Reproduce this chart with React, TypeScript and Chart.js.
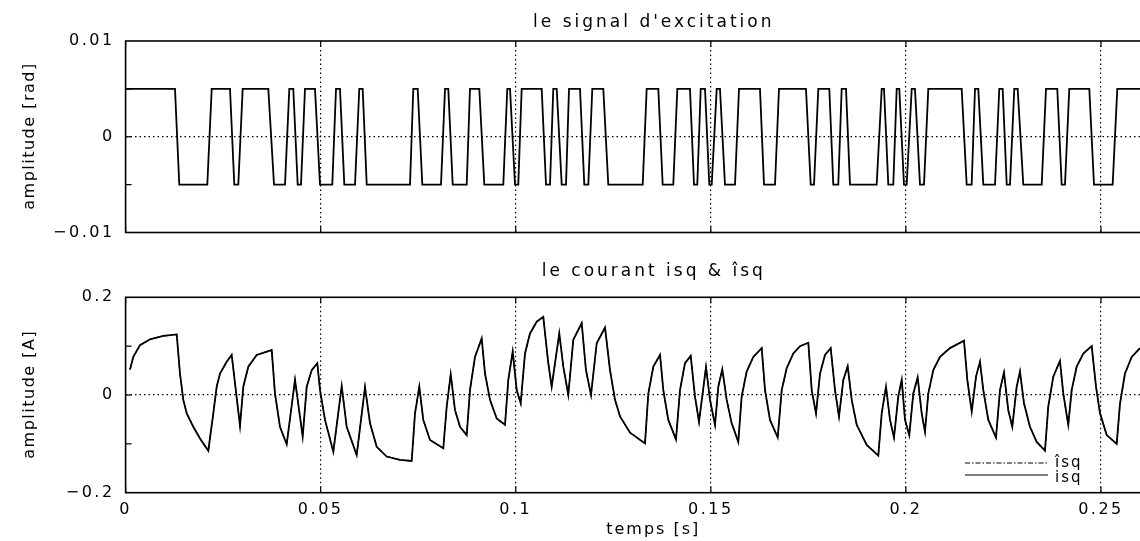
import { useEffect, useRef } from 'react';
import { Chart, registerables } from 'chart.js';

Chart.register(...registerables);

const FONT = "'DejaVu Sans', 'Liberation Sans', sans-serif";

// Time axis in milliseconds, labelled in seconds
const timeTicksMs = [0, 50, 100, 150, 200, 250];
const timeTickLabels = ['0', '0.05', '0.1', '0.15', '0.2', '0.25'];
const timeMaxMs = 270;

// Excitation panel axis
const excTicks = [-0.01, 0, 0.01];
const excTickLabels = ['−0.01', '0', '0.01'];
const excMinorTicks = [-0.005, 0.005];

// Current panel axis
const curTicks = [-0.2, 0, 0.2];
const curTickLabels = ['−0.2', '0', '0.2'];
const curMinorTicks = [-0.1, 0.1];

// Excitation: level starts at +excAmplitude and flips at every edge (ramp start / ramp end, ms)
const excAmplitude = 0.005;
const excEdgeStartMs = [
  12.66, 20.94, 26.76, 28.89, 36.58, 40.86, 42.98, 44.96, 48.54, 52.98,
  54.95, 58.8, 60.77, 72.9, 74.87, 80.84, 82.71, 87.43, 90.66, 96.81,
  98.53, 100.65, 106.65, 108.78, 110.5, 112.88, 116.47, 118.6, 122.44, 132.54,
  136.54, 140.38, 144.66, 146.53, 148.51, 150.23, 152.35, 156.2, 162.6, 166.45,
  174.39, 176.45, 180.37, 182.67, 184.65, 192.51, 194.39, 196.77, 198.31, 200.2,
  202.33, 204.64, 214.3, 216.86, 218.56, 222.84, 224.81, 226.68, 228.65, 234.81,
  238.8, 240.78, 247.01, 253.0,
];
const excEdgeEndMs = [
  13.76, 22.07, 27.86, 30.01, 38.04, 41.96, 44.11, 45.98, 49.83, 53.93,
  56.06, 59.9, 61.8, 73.74, 76.05, 81.87, 83.84, 88.27, 91.94, 97.83,
  99.81, 101.52, 107.75, 109.62, 111.78, 113.65, 117.57, 119.62, 123.72, 133.56,
  137.66, 141.41, 145.69, 147.41, 149.61, 151.51, 153.63, 157.22, 163.63, 167.47,
  175.6, 177.55, 181.39, 183.54, 185.67, 193.8, 195.49, 197.64, 199.51, 201.49,
  203.61, 205.74, 215.58, 217.71, 219.84, 223.94, 225.84, 227.78, 230.09, 235.91,
  239.93, 241.88, 248.21, 254.18,
];
const excLastMs = 260.1;

// Measured quadrature current isq (ms, A)
const isqTimeMs = [
  1.13, 1.97, 3.69, 6.25, 9.66, 13.1, 13.94, 14.79, 15.66, 17.35,
  19.07, 21.2, 22.48, 23.35, 24.2, 25.91, 27.19, 29.32, 30.17, 31.45,
  33.6, 37.45, 38.29, 39.57, 41.29, 43.42, 45.39, 46.42, 47.7, 49.13,
  49.83, 51.11, 53.24, 55.39, 56.67, 59.23, 61.36, 62.65, 64.36, 66.92,
  70.33, 73.33, 74.18, 75.28, 76.3, 78.02, 81.43, 82.3, 83.33, 84.43,
  85.71, 87.43, 88.27, 89.55, 91.27, 92.12, 93.4, 95.12, 97.25, 98.09,
  99.22, 100.24, 101.27, 102.37, 103.65, 105.37, 107.06, 108.34, 109.21, 111.16,
  112.19, 113.47, 114.75, 116.9, 118.0, 119.29, 120.75, 122.88, 124.16, 125.44,
  126.73, 129.29, 133.13, 133.98, 135.26, 136.98, 137.82, 139.1, 141.07, 142.1,
  143.38, 144.84, 145.94, 146.97, 148.76, 149.79, 151.07, 151.92, 152.94, 154.07,
  155.35, 157.04, 157.91, 159.19, 160.89, 163.04, 163.89, 165.17, 167.14, 168.17,
  169.45, 171.14, 172.86, 174.99, 175.86, 176.96, 177.99, 179.27, 180.72, 181.83,
  182.85, 183.96, 185.08, 186.11, 187.39, 189.95, 192.93, 193.8, 194.9, 195.93,
  196.95, 198.05, 198.93, 199.77, 200.87, 201.9, 203.02, 204.05, 204.89, 205.74,
  207.02, 208.74, 211.3, 214.89, 215.74, 216.87, 217.97, 218.99, 219.84, 221.12,
  223.09, 224.11, 225.14, 226.24, 227.27, 228.4, 229.24, 230.27, 231.8, 233.52,
  235.65, 236.49, 237.78, 239.49, 240.34, 241.62, 242.49, 243.78, 245.47, 247.62,
  248.73, 249.75, 251.47, 254.03, 254.88, 256.16, 257.88, 260.01,
];
const isqValue = [
  0.052, 0.078, 0.102, 0.114, 0.121, 0.124, 0.044, -0.01, -0.0375, -0.065,
  -0.089, -0.114, -0.0375, 0.017, 0.044, 0.068, 0.082, -0.063, 0.017, 0.058,
  0.082, 0.092, 0.003, -0.065, -0.101, 0.031, -0.085, 0.017, 0.051, 0.065,
  0.01, -0.051, -0.116, 0.018, -0.065, -0.123, 0.016, -0.058, -0.106, -0.126,
  -0.133, -0.135, -0.0375, 0.017, -0.051, -0.092, -0.109, -0.024, 0.042, -0.031,
  -0.065, -0.082, 0.01, 0.078, 0.116, 0.044, -0.01, -0.048, -0.061, 0.031,
  0.089, 0.01, -0.017, 0.085, 0.126, 0.15, 0.16, 0.065, 0.017, 0.126,
  0.058, 0.0, 0.113, 0.147, 0.051, 0.0, 0.106, 0.138, 0.051, -0.01,
  -0.044, -0.077, -0.099, 0.003, 0.058, 0.082, 0.01, -0.051, -0.091, 0.01,
  0.065, 0.08, -0.003, -0.055, 0.057, -0.01, -0.061, 0.017, 0.053, -0.01,
  -0.058, -0.096, -0.003, 0.048, 0.078, 0.096, 0.01, -0.051, -0.087, 0.01,
  0.055, 0.085, 0.1, 0.107, 0.01, -0.0375, 0.044, 0.082, 0.096, 0.01,
  -0.044, 0.031, 0.059, -0.01, -0.061, -0.102, -0.124, -0.0375, 0.017, -0.051,
  -0.087, -0.003, 0.031, -0.051, -0.082, 0.003, 0.036, -0.0375, -0.075, 0.003,
  0.051, 0.078, 0.096, 0.111, 0.031, -0.034, 0.0375, 0.068, 0.01, -0.051,
  -0.087, 0.01, 0.046, -0.031, -0.065, 0.017, 0.048, -0.017, -0.065, -0.096,
  -0.114, -0.024, 0.0375, 0.07, 0.003, -0.061, 0.01, 0.058, 0.085, 0.1,
  0.017, -0.0375, -0.082, -0.1, -0.017, 0.044, 0.078, 0.096,
];
// Estimated current îsq coincides with the measurement
const isqHatValue = isqValue;

function buildExcitation() {
  const pts: { x: number; y: number }[] = [{ x: 0, y: excAmplitude }];
  let level = excAmplitude;
  excEdgeStartMs.forEach((t0, i) => {
    pts.push({ x: t0, y: level });
    level = -level;
    pts.push({ x: excEdgeEndMs[i], y: level });
  });
  pts.push({ x: excLastMs, y: level });
  return pts;
}

const toPoints = (xs: number[], ys: number[]) => xs.map((x, i) => ({ x, y: ys[i] }));

function drawText(ctx: CanvasRenderingContext2D, text: string, x: number, y: number, size: number, spacing: number, align: CanvasTextAlign = 'center') {
  ctx.save();
  ctx.font = `${size}px ${FONT}`;
  (ctx as any).letterSpacing = `${spacing}px`;
  ctx.fillStyle = '#000';
  ctx.textAlign = align;
  ctx.textBaseline = 'alphabetic';
  ctx.fillText(text, x + (align === 'center' ? spacing / 2 : 0), y);
  ctx.restore();
}

const framePlugin = {
  id: 'frame',
  beforeDraw(chart: any) {
    (chart.ctx as any).letterSpacing = '2.5px';
  },
  afterDraw(chart: any, _args: any, opts: any) {
    const { ctx, chartArea: a, scales } = chart;
    ctx.save();
    ctx.setLineDash([]);
    ctx.strokeStyle = '#000';
    // inward tick marks on the frame
    ctx.lineWidth = 1.2;
    const seg = (x1: number, y1: number, x2: number, y2: number) => {
      ctx.beginPath();
      ctx.moveTo(x1, y1);
      ctx.lineTo(x2, y2);
      ctx.stroke();
    };
    [...opts.yMarks].forEach((v: number) => {
      const py = scales.y.getPixelForValue(v);
      seg(a.left, py, a.left + 6, py);
      seg(a.right, py, a.right - 6, py);
    });
    timeTicksMs.forEach((v) => {
      const px = scales.x.getPixelForValue(v);
      seg(px, a.bottom, px, a.bottom - 6);
      seg(px, a.top, px, a.top + 6);
    });
    ctx.lineWidth = 1.6;
    ctx.strokeRect(a.left, a.top, a.right - a.left, a.bottom - a.top);
    ctx.restore();

    const cx = (a.left + a.right) / 2;
    drawText(ctx, opts.title, cx, opts.titleBaseline, 17, 3);

    ctx.save();
    ctx.translate(opts.yTitleX, (a.top + a.bottom) / 2);
    ctx.rotate(-Math.PI / 2);
    drawText(ctx, opts.yTitle, 0, 0, 16, 1.5);
    ctx.restore();

    if (opts.xTitle) drawText(ctx, opts.xTitle, cx, opts.xTitleBaseline, 16, 2);

    if (opts.legend) {
      const L = opts.legend;
      ctx.save();
      ctx.strokeStyle = '#000';
      ctx.lineWidth = 1.2;
      ctx.setLineDash([5, 2, 1.5, 2]);
      seg(L.x0, L.y1, L.x1, L.y1);
      ctx.setLineDash([]);
      seg(L.x0, L.y2, L.x1, L.y2);
      ctx.restore();
      drawText(ctx, 'îsq', L.tx, L.y1 + 4, 15, 2, 'left');
      drawText(ctx, 'isq', L.tx, L.y2 + 7, 15, 2, 'left');
    }
  },
};

function makeConfig(p: any): any {
  return {
    type: 'line',
    data: { datasets: p.datasets },
    options: {
      responsive: false,
      animation: false,
      events: [],
      layout: { padding: { top: p.padTop, bottom: p.padBottom, left: 0, right: 1 } },
      plugins: {
        legend: { display: false },
        tooltip: { enabled: false },
        frame: p.frame,
      },
      scales: {
        x: {
          type: 'linear',
          min: 0,
          max: timeMaxMs,
          afterBuildTicks: (s: any) => {
            s.ticks = timeTicksMs.map((v) => ({ value: v }));
          },
          afterFit: (s: any) => {
            s.height = p.xAxisHeight;
          },
          grid: {
            color: (c: any) => (c.tick && c.tick.value !== 0 ? '#000' : 'rgba(0,0,0,0)'),
            lineWidth: 1.2,
            drawTicks: false,
          },
          border: { display: false, dash: [1.5, 3] },
          ticks: {
            display: p.showTimeLabels,
            autoSkip: false,
            maxRotation: 0,
            padding: 8,
            color: '#000',
            font: { family: FONT, size: 16 },
            callback: (v: number) => timeTickLabels[timeTicksMs.indexOf(v)] ?? '',
          },
        },
        y: {
          type: 'linear',
          min: p.yTicks[0],
          max: p.yTicks[p.yTicks.length - 1],
          afterBuildTicks: (s: any) => {
            s.ticks = p.yTicks.map((v: number) => ({ value: v }));
          },
          afterFit: (s: any) => {
            s.width = 125.6;
          },
          grid: {
            color: (c: any) => (c.tick && c.tick.value === 0 ? '#000' : 'rgba(0,0,0,0)'),
            lineWidth: 1.2,
            drawTicks: false,
          },
          border: { display: false, dash: [1.5, 3] },
          ticks: {
            padding: 11,
            color: '#000',
            font: { family: FONT, size: 16 },
            callback: (v: number) => p.yLabels[p.yTicks.indexOf(v)] ?? '',
          },
        },
      },
    },
    plugins: [framePlugin],
  };
}

export default function App() {
  const topRef = useRef<HTMLCanvasElement>(null);
  const botRef = useRef<HTMLCanvasElement>(null);

  useEffect(() => {
    const excChart = new Chart(
      topRef.current as HTMLCanvasElement,
      makeConfig({
        padTop: 41,
        padBottom: 255 - 232.5,
        xAxisHeight: 0,
        showTimeLabels: false,
        yTicks: excTicks,
        yLabels: excTickLabels,
        datasets: [
          {
            data: buildExcitation(),
            borderColor: '#000',
            borderWidth: 1.8,
            pointRadius: 0,
            tension: 0,
          },
        ],
        frame: {
          title: "le signal d'excitation",
          titleBaseline: 26.5,
          yTitle: 'amplitude [rad]',
          yTitleX: 34,
          yMarks: [...excMinorTicks, 0],
        },
      })
    );

    const curChart = new Chart(
      botRef.current as HTMLCanvasElement,
      makeConfig({
        padTop: 297.3 - 255,
        padBottom: 0,
        xAxisHeight: 286 - (492.7 - 255),
        showTimeLabels: true,
        yTicks: curTicks,
        yLabels: curTickLabels,
        datasets: [
          {
            label: 'îsq',
            data: toPoints(isqTimeMs, isqHatValue),
            borderColor: '#000',
            borderWidth: 1.2,
            borderDash: [5, 2, 1.5, 2],
            pointRadius: 0,
            tension: 0,
          },
          {
            label: 'isq',
            data: toPoints(isqTimeMs, isqValue),
            borderColor: '#000',
            borderWidth: 1.8,
            pointRadius: 0,
            tension: 0,
          },
        ],
        frame: {
          title: 'le courant isq & îsq',
          titleBaseline: 276 - 255,
          yTitle: 'amplitude [A]',
          yTitleX: 34,
          yMarks: [...curMinorTicks, 0],
          xTitle: 'temps [s]',
          xTitleBaseline: 534 - 255,
          legend: { x0: 965, x1: 1048, y1: 463 - 255, y2: 475 - 255, tx: 1055 },
        },
      })
    );

    return () => {
      excChart.destroy();
      curChart.destroy();
    };
  }, []);

  return (
    <div
      style={{
        position: 'absolute',
        left: 0,
        top: 0,
        width: 1140,
        height: 541,
        overflow: 'hidden',
        background: '#fff',
      }}
    >
      <canvas ref={topRef} width={1180} height={255} style={{ position: 'absolute', left: 0, top: 0 }} />
      <canvas ref={botRef} width={1180} height={286} style={{ position: 'absolute', left: 0, top: 255 }} />
    </div>
  );
}
